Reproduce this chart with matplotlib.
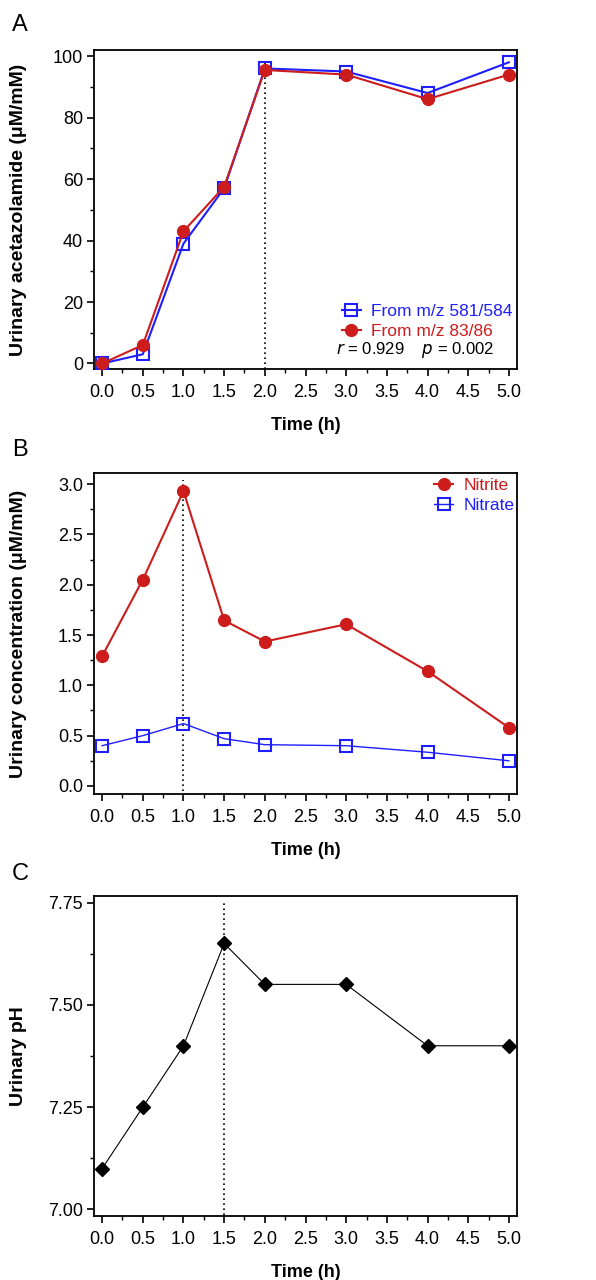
import numpy as np
import matplotlib
matplotlib.use('Agg')
import matplotlib.pyplot as plt
from matplotlib.ticker import MultipleLocator, FormatStrFormatter

plt.rcParams['font.family'] = ['Liberation Sans', 'DejaVu Sans']

# data
time_h = [0.0, 0.5, 1.0, 1.5, 2.0, 3.0, 4.0, 5.0]
acz_581 = [0, 3, 39, 57, 96, 95, 88, 98]
acz_83 = [0, 6, 43, 57.5, 95.5, 94, 86, 94]
nitrite = [1.29, 2.05, 2.93, 1.645, 1.435, 1.607, 1.14, 0.58]
nitrate = [0.40, 0.50, 0.62, 0.47, 0.41, 0.40, 0.335, 0.25]
ph = [7.10, 7.25, 7.40, 7.65, 7.55, 7.55, 7.40, 7.40]
xticks = [0.0, 0.5, 1.0, 1.5, 2.0, 2.5, 3.0, 3.5, 4.0, 4.5, 5.0]

BLUE = '#1e1eff'
RED = '#cc1c1c'

fig = plt.figure(figsize=(5.96, 12.8), dpi=100)
W, H = 596, 1280


def add_ax(left, top, right, bottom):
    return fig.add_axes([left / W, 1 - bottom / H, (right - left) / W, (bottom - top) / H])


def style(ax, ylim, ymajor, yminor, yfmt, ylabel):
    ax.set_xlim(-0.1, 5.1)
    ax.set_ylim(*ylim)
    ax.set_xticks(xticks)
    ax.xaxis.set_major_formatter(FormatStrFormatter('%.1f'))
    ax.xaxis.set_minor_locator(MultipleLocator(0.25))
    ax.yaxis.set_major_locator(MultipleLocator(ymajor))
    ax.yaxis.set_minor_locator(MultipleLocator(yminor))
    ax.yaxis.set_major_formatter(FormatStrFormatter(yfmt))
    ax.tick_params(which='major', direction='out', length=5, width=1.2, labelsize=13, pad=3,
                   colors='black', top=False, right=False)
    ax.tick_params(axis='x', which='major', pad=6)
    ax.tick_params(which='minor', direction='out', length=3, width=1, top=False, right=False)
    for s in ax.spines.values():
        s.set_linewidth(1.3)
    ax.set_xlabel('Time (h)', fontsize=13, fontweight='bold', labelpad=11)
    ax.set_ylabel(ylabel, fontsize=14, fontweight='bold')
    ax.yaxis.set_label_coords(-0.158, 0.5)


# Panel A
axA = add_ax(94, 50, 517, 369)
axA.plot(time_h, acz_581, color=BLUE, lw=1.5, marker='s', ms=8.5, mfc='none', mec=BLUE, mew=1.5,
         label='From m/z 581/584', zorder=3)
axA.plot(time_h, acz_83, color=RED, lw=1.5, marker='o', ms=8.5, mfc=RED, mec=RED,
         label='From m/z 83/86', zorder=4)
axA.plot([2.0, 2.0], [-5, 99], color='black', ls=(0, (1, 2)), lw=1.2, zorder=2)
style(axA, (-1.8, 102), 20, 10, '%d', 'Urinary acetazolamide (\u03bcM/mM)')
legA = axA.legend(loc='lower right', bbox_to_anchor=(0.99, 0.095), frameon=False, fontsize=12.5,
                  handlelength=1.1, handletextpad=0.6, labelspacing=0.25, borderpad=0,
                  borderaxespad=0)
for t, c in zip(legA.get_texts(), [BLUE, RED]):
    t.set_color(c)
axA.text(0.946, 0.06, r'$r$ = 0.929    $p$ = 0.002', transform=axA.transAxes, ha='right',
         va='center', fontsize=12)
fig.text(12 / W, 1 - 25 / H, 'A', fontsize=17, va='center', ha='left')

# Panel B
axB = add_ax(94, 473, 517, 794)
axB.plot(time_h, nitrite, color=RED, lw=1.5, marker='o', ms=8.5, mfc=RED, mec=RED,
         label='Nitrite', zorder=4)
axB.plot(time_h, nitrate, color=BLUE, lw=1.0, marker='s', ms=8.5, mfc='none', mec=BLUE, mew=1.5,
         label='Nitrate', zorder=3)
axB.plot([1.0, 1.0], [-0.2, 3.04], color='black', ls=(0, (1, 2)), lw=1.2, zorder=2)
style(axB, (-0.08, 3.11), 0.5, 0.25, '%.1f', 'Urinary concentration (\u03bcM/mM)')
legB = axB.legend(loc='upper right', bbox_to_anchor=(0.995, 0.985), frameon=False, fontsize=12.5,
                  handlelength=1.1, handletextpad=0.6, labelspacing=0.3, borderpad=0,
                  borderaxespad=0)
for t, c in zip(legB.get_texts(), [RED, BLUE]):
    t.set_color(c)
fig.text(12 / W, 1 - 450 / H, 'B', fontsize=17, va='center', ha='left')

# Panel C
axC = add_ax(94, 896, 517, 1216)
axC.plot(time_h, ph, color='black', lw=0.8, marker='D', ms=7, mfc='black', mec='black', zorder=3)
axC.plot([1.5, 1.5], [6.9, 7.75], color='black', ls=(0, (1, 2)), lw=1.2, zorder=2)
style(axC, (6.984, 7.766), 0.25, 0.125, '%.2f', 'Urinary pH')
fig.text(12 / W, 1 - 874 / H, 'C', fontsize=17, va='center', ha='left')

fig.savefig('out.png', dpi=100, facecolor='white')
